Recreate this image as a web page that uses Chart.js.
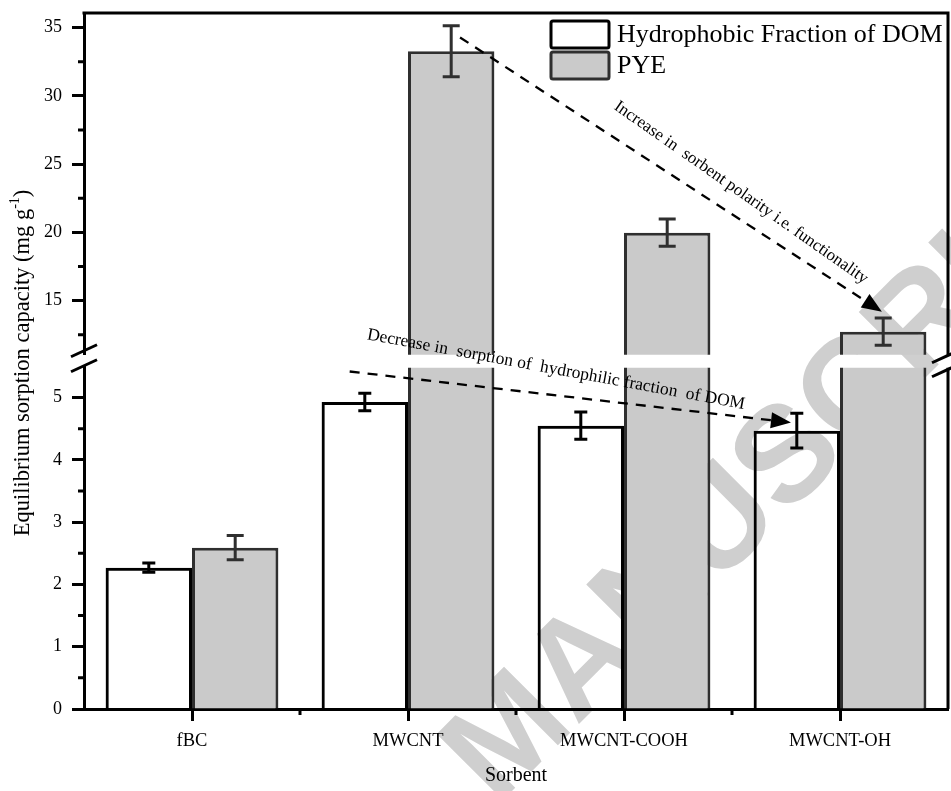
<!DOCTYPE html>
<html><head><meta charset="utf-8">
<script src="https://cdn.jsdelivr.net/npm/chart.js@4"></script>
<style>html,body{margin:0;padding:0;background:#fff;} canvas{display:block;}</style>
</head><body>
<canvas id="c" width="951" height="791"></canvas>
<script>
const categories = ['fBC', 'MWCNT', 'MWCNT-COOH', 'MWCNT-OH'];
const hydrophobic = [2.27, 4.93, 4.55, 4.47];
const hydrophobicErr = [0.075, 0.14, 0.22, 0.28];
const pye = [2.59, 33.26, 19.98, 12.73];
const pyeErr = [0.195, 1.87, 0.99, 1.0];
const upperTicks = [15, 20, 25, 30, 35];
const upperMinorTicks = [12.5, 17.5, 22.5, 27.5, 32.5];
const lowerTicks = [0, 1, 2, 3, 4, 5];
const lowerMinorTicks = [0.5, 1.5, 2.5, 3.5, 4.5];
const upperRange = [11.04, 36.06];
const lowerRange = [0, 5.48];
const seriesNames = ['Hydrophobic Fraction of DOM', 'PYE'];
const arrows = [
  {scale: 'yU', from: [1.241, 34.27], to: [3.194, 14.19]},
  {scale: 'yL', from: [0.73, 5.42], to: [2.773, 4.60]}
];
const notes = [
  {scale: 'yU', at: [2.542, 22.91], angle: 35, size: 17, text: 'Increase in  sorbent polarity i.e. functionality'},
  {scale: 'yL', at: [1.685, 5.45], angle: 10.5, size: 17.5, text: 'Decrease in  sorption of  hydrophilic fraction  of DOM'}
];

const SERIF = '"Liberation Serif", "Times New Roman", serif';
const PYE_FILL = '#cacaca';
const PYE_EDGE = '#2f2f2f';

const upperPye = pye.map(v => v > lowerRange[1] ? v : null);

const decor = {
  id: 'decor',
  beforeDraw(chart) {
    const ctx = chart.ctx;
    ctx.save();
    ctx.translate(470, 780);
    ctx.rotate(-Math.PI / 4);
    ctx.font = 'bold 136px "Liberation Sans", Arial, sans-serif';
    ctx.fillStyle = '#cfcfcf';
    ctx.textBaseline = 'middle';
    ctx.textAlign = 'left';
    ctx.fillText('MANUSCRIPT', 0, 0);
    ctx.restore();
  },
  afterDatasetsDraw(chart) {
    const ctx = chart.ctx;
    chart.data.datasets.forEach((ds, di) => {
      if (!ds.err) return;
      const meta = chart.getDatasetMeta(di);
      const ys = chart.scales[ds.yAxisID];
      meta.data.forEach((bar, i) => {
        const v = ds.data[i];
        if (v == null || v > ys.max || v < ys.min) return;
        const e = ds.err[i];
        const y1 = ys.getPixelForValue(v + e);
        const y2 = ys.getPixelForValue(Math.max(v - e, ys.min));
        const x = bar.x;
        const hw = ds.capWidth / 2;
        ctx.save();
        ctx.strokeStyle = ds.errColor;
        ctx.lineWidth = 3;
        ctx.beginPath();
        ctx.moveTo(x, y1); ctx.lineTo(x, y2);
        ctx.moveTo(x - hw, y1); ctx.lineTo(x + hw, y1);
        ctx.moveTo(x - hw, y2); ctx.lineTo(x + hw, y2);
        ctx.stroke();
        ctx.restore();
      });
    });
  },
  afterDraw(chart) {
    const ctx = chart.ctx;
    const a = chart.chartArea;
    const xs = chart.scales.x, yU = chart.scales.yU, yL = chart.scales.yL;
    ctx.save();
    ctx.strokeStyle = '#000';
    ctx.lineWidth = 3;
    ctx.beginPath();
    ctx.moveTo(a.left - 1.5, a.top); ctx.lineTo(a.right + 1.5, a.top);
    ctx.moveTo(a.right, a.top); ctx.lineTo(a.right, yU.bottom);
    ctx.moveTo(a.right, yL.top); ctx.lineTo(a.right, a.bottom);
    ctx.stroke();
    ctx.beginPath();
    upperMinorTicks.forEach(v => { const y = yU.getPixelForValue(v); ctx.moveTo(a.left - 6, y); ctx.lineTo(a.left, y); });
    lowerMinorTicks.forEach(v => { const y = yL.getPixelForValue(v); ctx.moveTo(a.left - 6, y); ctx.lineTo(a.left, y); });
    for (let i = 0; i < categories.length - 1; i++) {
      const x = (xs.getPixelForValue(i) + xs.getPixelForValue(i + 1)) / 2;
      ctx.moveTo(x, a.bottom); ctx.lineTo(x, a.bottom + 6);
    }
    ctx.stroke();
    const slash = (x, y) => { ctx.moveTo(x - 13, y + 6); ctx.lineTo(x + 13, y - 6); };
    ctx.beginPath();
    slash(a.left, yU.bottom - 4); slash(a.left, yL.top - 2);
    slash(a.right - 3, yU.bottom + 2); slash(a.right - 3, yL.top + 3);
    ctx.stroke();
    ctx.restore();

    arrows.forEach(ar => {
      const ys = chart.scales[ar.scale];
      const x1 = xs.getPixelForValue(ar.from[0]), y1 = ys.getPixelForValue(ar.from[1]);
      const x2 = xs.getPixelForValue(ar.to[0]), y2 = ys.getPixelForValue(ar.to[1]);
      const ang = Math.atan2(y2 - y1, x2 - x1);
      const L = 20, W = 8;
      const bx = x2 - L * Math.cos(ang), by = y2 - L * Math.sin(ang);
      ctx.save();
      ctx.strokeStyle = '#000';
      ctx.lineWidth = 2.3;
      ctx.setLineDash([10, 8]);
      ctx.beginPath();
      ctx.moveTo(x1, y1); ctx.lineTo(bx, by);
      ctx.stroke();
      ctx.setLineDash([]);
      ctx.fillStyle = '#000';
      ctx.beginPath();
      ctx.moveTo(x2, y2);
      ctx.lineTo(bx + W * Math.sin(ang), by - W * Math.cos(ang));
      ctx.lineTo(bx - W * Math.sin(ang), by + W * Math.cos(ang));
      ctx.closePath();
      ctx.fill();
      ctx.restore();
    });
    notes.forEach(n => {
      const ys = chart.scales[n.scale];
      const x = xs.getPixelForValue(n.at[0]), y = ys.getPixelForValue(n.at[1]);
      ctx.save();
      ctx.translate(x, y);
      ctx.rotate(n.angle * Math.PI / 180);
      ctx.font = n.size + 'px ' + SERIF;
      ctx.fillStyle = '#000';
      ctx.textAlign = 'center';
      ctx.textBaseline = 'middle';
      ctx.fillText(n.text, 0, 0);
      ctx.restore();
    });

    ctx.save();
    const lx = a.right - 397;
    const rows = [
      {top: a.top + 8, fill: '#fff', edge: '#000'},
      {top: a.top + 39, fill: PYE_FILL, edge: PYE_EDGE}
    ];
    ctx.font = '26px ' + SERIF;
    ctx.textBaseline = 'middle';
    ctx.textAlign = 'left';
    rows.forEach((r, i) => {
      ctx.fillStyle = r.fill;
      ctx.strokeStyle = r.edge;
      ctx.lineWidth = 3;
      ctx.beginPath();
      if (ctx.roundRect) ctx.roundRect(lx, r.top, 58, 27, 2); else ctx.rect(lx, r.top, 58, 27);
      ctx.fill();
      ctx.stroke();
      ctx.fillStyle = '#000';
      ctx.fillText(seriesNames[i], lx + 66, r.top + 14);
    });
    ctx.restore();

    ctx.save();
    const cy = (a.top + a.bottom) / 2 + 2;
    ctx.translate(23, cy);
    ctx.rotate(-Math.PI / 2);
    ctx.fillStyle = '#000';
    ctx.textBaseline = 'middle';
    ctx.textAlign = 'left';
    const mainT = 'Equilibrium sorption capacity (mg g', supT = '-1', endT = ')';
    const f1 = '22.5px ' + SERIF, f2 = '14px ' + SERIF;
    ctx.font = f1; const w1 = ctx.measureText(mainT).width, w3 = ctx.measureText(endT).width;
    ctx.font = f2; const w2 = ctx.measureText(supT).width;
    let sx = -(w1 + w2 + w3) / 2;
    ctx.font = f1; ctx.fillText(mainT, sx, 0); sx += w1;
    ctx.font = f2; ctx.fillText(supT, sx, -8); sx += w2;
    ctx.font = f1; ctx.fillText(endT, sx, 0);
    ctx.restore();
  }
};

const yCommon = (ticksArr) => ({
  type: 'linear',
  position: 'left',
  stack: 'v',
  stacked: false,
  afterBuildTicks: s => { s.ticks = ticksArr.map(v => ({value: v})); },
  afterFit: s => { s.width = 84; s.paddingTop = 0; s.paddingBottom = 0; },
  grid: {drawOnChartArea: false, drawTicks: true, tickLength: 12, tickWidth: 3, tickColor: '#000'},
  border: {display: true, color: '#000', width: 3},
  ticks: {font: {family: SERIF, size: 18}, color: '#000', padding: 10}
});

new Chart(document.getElementById('c'), {
  type: 'bar',
  data: {
    labels: categories,
    datasets: [
      {label: seriesNames[0], data: hydrophobic, err: hydrophobicErr, errColor: '#000', capWidth: 13,
       yAxisID: 'yL', stack: 'h', backgroundColor: 'rgba(255,255,255,0)', borderColor: '#000', borderWidth: 3},
      {label: seriesNames[1], data: pye, err: pyeErr, errColor: PYE_EDGE, capWidth: 17,
       yAxisID: 'yL', stack: 'p', backgroundColor: PYE_FILL, borderColor: PYE_EDGE, borderWidth: 3},
      {label: seriesNames[1] + ' (upper)', data: upperPye, err: pyeErr, errColor: PYE_EDGE, capWidth: 17,
       yAxisID: 'yU', stack: 'p', backgroundColor: PYE_FILL, borderColor: PYE_EDGE, borderWidth: 3}
    ]
  },
  options: {
    responsive: false,
    animation: false,
    events: [],
    layout: {padding: {top: 13, right: 3, left: 0, bottom: 0}},
    datasets: {bar: {categoryPercentage: 0.8, barPercentage: 1.0}},
    plugins: {legend: {display: false}, tooltip: {enabled: false}},
    scales: {
      x: {
        type: 'category',
        offset: true,
        grid: {offset: false, drawOnChartArea: false, drawTicks: true, tickLength: 12, tickWidth: 3, tickColor: '#000'},
        border: {display: true, color: '#000', width: 3},
        ticks: {font: {family: SERIF, size: 18.5}, color: '#000', padding: 9, maxRotation: 0, autoSkip: false},
        title: {display: true, text: 'Sorbent', font: {family: SERIF, size: 20}, color: '#000', padding: {top: 0, bottom: 3}},
        afterFit: s => { s.height = 82; s.paddingLeft = 0; s.paddingRight = 0; }
      },
      yU: Object.assign(yCommon(upperTicks), {min: upperRange[0], max: upperRange[1], stackWeight: 341.5, weight: 3}),
      yG: {type: 'linear', position: 'left', stack: 'v', stackWeight: 13, weight: 2, display: false, min: 0, max: 1},
      yL: Object.assign(yCommon(lowerTicks), {min: lowerRange[0], max: lowerRange[1], stackWeight: 341, weight: 1})
    }
  },
  plugins: [decor]
});
</script>
</body></html>
